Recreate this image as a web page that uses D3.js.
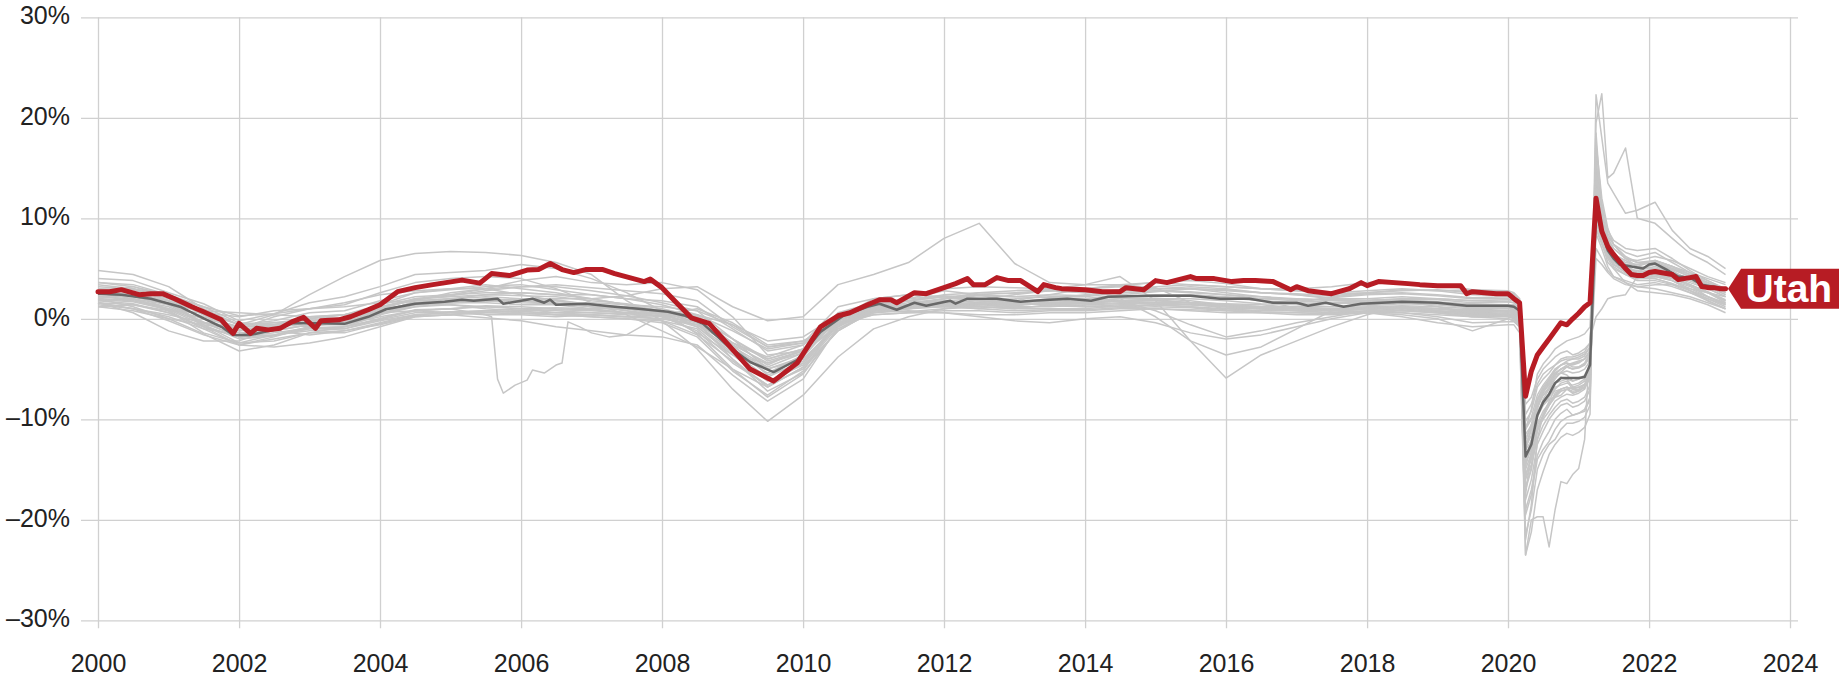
<!DOCTYPE html>
<html><head><meta charset="utf-8">
<script src="https://cdn.jsdelivr.net/npm/d3@7"></script>
<style>
html,body{margin:0;padding:0;background:#fff;}
svg{display:block;}
text{font-family:"Liberation Sans",Arial,Helvetica,sans-serif;}
</style></head><body>
<svg id="chart" width="1839" height="677"></svg>
<script>
// ---------- DATA ----------
const yTickValues = [-30, -20, -10, 0, 10, 20, 30];
const xTickYears = [2000, 2002, 2004, 2006, 2008, 2010, 2012, 2014, 2016, 2018, 2020, 2022, 2024];
const highlightLabel = "Utah";

// shared month grid for the grey state lines
const greyMonths = [
 "2000-01","2000-07","2001-01","2001-07","2002-01","2002-07","2003-01","2003-07","2004-01","2004-07",
 "2005-01","2005-07","2006-01","2006-07","2007-01","2007-07","2008-01","2008-07","2009-01","2009-07",
 "2010-01","2010-07","2011-01","2011-07","2012-01","2012-07","2013-01","2013-07","2014-01","2014-07",
 "2015-01","2015-07","2016-01","2016-07","2017-01","2017-07","2018-01","2018-07","2019-01","2019-07",
 "2020-01","2020-02","2020-03","2020-04","2020-05","2020-06","2020-07","2020-08","2020-09","2020-10",
 "2020-11","2020-12","2021-01","2021-02","2021-03","2021-04","2021-05","2021-06","2021-07","2021-09",
 "2021-11","2022-02","2022-05","2022-08","2022-11","2023-02"
];

const greySeries = [
 [4.0,3.8,2.6,1.5,-0.2,0.5,1.6,2.2,3.2,4.4, 4.6,4.8,5.4,5.0,4.0,2.6,0.8,-1.5,-5.0,-7.8, -5.5,-1.0,0.8,1.4,2.0,2.3,2.2,2.1,2.0,2.4, 2.7,3.0,2.9,2.6,2.5,2.3,2.6,2.9,2.8,2.9, 2.6,2.5,2.0,-11.0,-9.0,-5.5,-4.5,-3.8,-3.0,-2.6, -2.2,-2.0,-1.8,-1.5,-0.8,13.0,9.5,7.5,6.6,5.2, 4.6,5.6,5.0,4.2,3.6,2.9],
 [3.6,3.2,2.4,1.2,0.3,0.5,1.0,1.4,2.6,3.6, 4.0,4.2,4.0,3.0,1.6,0.4,-1.2,-2.8,-5.0,-6.8, -4.8,-1.2,0.8,1.2,1.5,1.9,2.4,2.8,3.0,3.3, 3.6,3.8,3.5,3.0,2.8,2.5,2.6,2.8,2.9,2.6, 2.5,2.4,1.8,-14.5,-12.5,-9.5,-8.0,-7.0,-6.0,-5.3, -4.8,-4.5,-4.3,-4.0,-3.2,14.0,10.2,8.0,7.0,6.0, 5.8,6.2,5.8,5.0,4.2,3.6],
 [3.2,3.0,2.4,0.8,-0.6,-0.4,-0.2,0.0,1.0,1.9, 2.3,2.8,3.2,3.4,3.1,2.8,2.5,1.8,-0.8,-2.8, -2.4,1.2,2.0,2.4,3.0,3.2,3.1,3.0,3.4,3.4, 3.1,1.6,1.0,0.8,1.6,2.2,2.5,2.6,2.4,2.1, 2.2,2.1,1.5,-9.5,-8.5,-6.5,-5.5,-5.0,-4.6,-4.2, -4.0,-4.0,-3.8,-3.5,-2.8,9.5,8.0,6.8,6.0,5.4, 5.4,5.8,5.2,4.6,4.0,3.4],
 [2.8,3.2,2.2,0.4,-1.2,-0.9,-0.3,-0.2,0.5,1.4, 1.8,2.0,1.8,1.4,1.0,0.6,-0.2,-1.6,-4.2,-6.6, -5.0,-1.2,0.8,1.4,2.0,2.6,2.5,2.8,2.6,2.8, 3.0,3.0,2.6,2.2,1.9,1.6,1.8,2.0,1.6,1.5, 1.4,1.3,0.6,-15.5,-14.0,-11.0,-10.0,-9.2,-8.2,-7.8, -7.5,-7.6,-7.4,-7.0,-5.6,14.0,10.6,8.2,7.4,6.6, 6.2,6.6,5.6,4.6,3.4,2.6],
 [2.0,1.2,0.0,-1.5,-3.2,-2.6,-1.4,-1.4,-0.5,0.3, 0.4,0.1,-0.2,-0.8,-1.2,-1.6,-1.8,-2.6,-5.6,-8.2, -6.0,-0.8,1.5,2.0,2.3,2.0,1.6,1.8,1.7,1.8, 1.9,1.6,1.4,1.2,1.0,0.9,1.0,1.2,0.8,0.6, 0.7,0.6,-0.2,-22.0,-18.5,-12.0,-9.5,-8.2,-7.0,-6.4, -6.2,-7.0,-6.8,-6.5,-5.2,18.5,10.5,7.0,5.8,4.6, 4.0,4.4,4.0,3.3,2.2,1.6],
 [2.2,2.4,1.4,-0.4,-1.8,-1.6,-1.0,-0.8,0.0,0.9, 1.0,1.2,1.0,1.1,1.0,1.0,0.7,0.4,-1.2,-3.0, -2.4,-0.2,0.9,1.3,1.4,1.5,1.3,1.6,1.6,1.8, 1.8,1.6,1.4,1.2,1.2,1.0,1.2,1.3,1.2,1.0, 1.1,1.0,0.2,-19.5,-17.5,-14.0,-13.0,-12.2,-11.0,-10.2, -9.8,-9.6,-9.4,-9.2,-8.0,15.5,11.0,8.8,7.8,7.0, 6.8,7.0,6.0,4.8,3.8,3.0],
 [1.8,1.5,0.6,-0.8,-1.8,-1.4,-0.9,-0.8,-0.1,0.6, 0.7,0.8,0.7,0.6,0.6,0.5,0.5,0.0,-2.0,-4.2, -3.2,-0.2,1.0,1.1,1.3,1.0,0.8,0.9,0.9,1.1, 1.2,1.1,0.8,0.8,0.8,0.6,0.8,1.0,0.7,0.4, 0.5,0.4,-0.2,-17.0,-15.0,-11.0,-9.6,-8.6,-7.4,-7.0, -6.8,-7.0,-6.8,-6.6,-5.8,14.0,9.0,7.0,5.8,4.6, 4.2,4.0,3.5,2.8,2.2,1.4],
 [2.6,2.0,0.8,-1.0,-2.6,-1.8,-0.8,-0.3,0.8,1.6, 2.0,2.4,2.6,2.4,2.0,1.4,0.6,-0.8,-3.6,-6.2, -4.6,-0.6,1.0,1.3,1.6,1.9,2.0,2.2,2.2,2.6, 2.8,2.7,2.4,2.0,1.8,1.6,1.7,1.9,1.9,1.6, 1.7,1.6,1.0,-12.5,-11.0,-8.0,-6.8,-6.0,-5.0,-4.6, -4.2,-4.0,-4.0,-3.7,-2.8,10.0,8.2,6.2,5.4,4.8, 4.4,5.0,4.6,4.0,3.4,2.8],
 [3.4,3.0,1.8,-0.6,-2.4,-2.2,-1.4,-0.8,0.4,1.8, 2.6,3.0,3.2,3.2,2.8,2.3,1.6,0.8,-2.0,-5.0, -4.0,-0.6,1.1,1.6,2.0,2.4,2.6,2.8,3.0,3.2, 3.0,3.2,3.0,2.6,2.4,2.1,2.4,2.5,2.3,2.0, 2.0,1.8,1.2,-13.0,-11.0,-8.5,-7.2,-6.6,-5.6,-5.0, -4.8,-5.0,-4.8,-4.5,-3.6,11.0,8.8,7.0,6.4,5.8, 5.2,5.8,5.2,4.4,3.6,2.9],
 [2.2,2.0,1.0,-0.4,-1.0,-0.8,-0.4,-0.2,0.6,1.2, 1.4,1.2,1.0,0.8,0.6,0.4,0.3,-0.4,-2.8,-4.8, -3.4,0.0,1.4,1.8,1.6,1.4,1.4,1.5,1.3,1.2, 1.4,1.2,1.0,1.0,1.0,0.9,1.1,1.1,0.8,0.5, 0.6,0.5,0.0,-14.0,-12.5,-9.5,-8.2,-7.4,-6.4,-5.8, -6.0,-6.8,-6.6,-6.2,-5.2,12.0,8.6,6.5,5.4,4.6, 4.0,4.2,3.8,3.0,2.2,1.5],
 [1.2,0.8,0.0,-0.6,-1.0,-1.2,-1.6,-1.2,-0.6,0.2, 0.4,0.8,1.0,0.6,0.4,0.2,0.3,0.4,-0.6,-2.8, -2.2,-0.4,0.6,0.8,0.6,0.2,-0.2,-0.4,0.0,0.2, -0.4,-1.4,-2.0,-1.6,-0.8,0.0,0.6,0.6,0.2,-0.4, -0.3,-0.3,-0.8,-12.0,-10.5,-8.0,-7.0,-6.4,-5.6,-5.4, -5.6,-6.2,-6.0,-5.8,-4.8,8.5,7.0,5.2,4.2,3.6, 2.8,2.6,2.4,2.0,1.4,0.6],
 [2.4,2.6,2.2,1.2,-0.4,-0.6,-0.8,0.0,1.0,2.0, 2.4,3.0,3.8,4.2,3.6,3.4,3.6,2.9,0.2,-3.6, -3.2,0.0,1.4,2.0,2.8,2.4,1.6,1.4,1.8,2.0, 0.2,-2.2,-3.6,-2.8,-1.0,0.8,1.6,1.8,1.2,0.6, 0.2,0.0,-0.6,-11.0,-10.0,-8.6,-7.6,-7.0,-6.4,-6.2, -6.0,-6.2,-6.0,-5.6,-4.6,9.0,7.6,5.6,5.0,4.4, 4.0,4.2,3.8,3.2,2.6,1.8],
 [2.6,2.2,1.4,0.8,0.6,0.4,0.2,0.4,1.0,1.4, 1.6,1.6,1.4,1.4,1.6,1.4,1.2,0.8,-0.6,-2.2, -1.8,0.4,1.0,1.1,1.2,1.4,1.2,1.2,1.4,1.5, 1.6,1.4,1.2,1.1,1.0,0.8,1.0,1.1,1.0,0.9, 1.0,0.9,0.6,-8.5,-7.8,-6.0,-5.0,-4.4,-3.8,-3.4, -3.2,-3.6,-3.4,-3.0,-2.4,7.0,6.0,4.8,4.2,3.8, 3.4,3.6,3.2,2.6,2.0,1.4],
 [2.8,3.0,1.8,-0.8,-2.6,-2.8,-2.4,-1.8,-0.8,0.2, 0.4,0.6,0.8,0.9,0.8,0.6,0.6,0.2,-2.0,-4.0, -3.0,0.2,1.0,1.2,1.3,1.2,1.0,1.4,1.5,1.6, 1.6,1.6,1.5,1.4,1.1,1.0,1.1,1.2,1.0,0.8, 0.8,0.8,0.0,-18.0,-16.0,-12.5,-11.2,-10.0,-9.2,-8.6, -8.4,-8.8,-8.6,-8.2,-7.0,17.0,11.5,8.5,7.4,6.2, 5.6,5.6,4.8,3.8,3.0,2.2],
 [3.0,2.6,0.8,-1.4,-2.4,-1.6,-0.8,0.0,1.4,2.6, 3.0,3.4,3.0,2.6,2.0,1.4,0.8,-0.4,-4.0,-7.2, -5.4,-1.0,0.6,1.2,1.6,1.4,1.6,2.0,2.4,2.8, 3.0,3.0,2.8,2.6,2.4,2.0,2.0,1.8,1.6,1.4, 1.4,1.2,0.6,-15.0,-13.4,-10.6,-9.6,-8.6,-7.8,-7.2, -7.0,-7.4,-7.2,-6.8,-5.8,15.0,10.0,8.0,7.0,6.0, 5.6,5.8,5.2,4.4,3.6,2.6],
 [1.6,1.0,0.2,-1.0,-1.6,-0.8,0.0,0.4,1.2,1.8, 2.0,1.8,2.0,1.8,1.4,0.8,0.2,-1.2,-4.4,-6.6, -4.4,-0.6,1.2,1.8,2.2,1.8,1.6,1.8,2.0,2.2, 2.4,2.4,2.2,2.0,2.0,1.8,1.8,2.0,2.0,1.8, 1.9,1.8,1.2,-13.8,-12.0,-8.8,-7.4,-6.4,-5.4,-5.0, -4.6,-4.4,-4.2,-4.0,-3.2,10.8,8.4,6.6,5.8,5.0, 4.6,5.0,4.6,3.8,3.2,2.4],
 [2.0,1.8,1.0,0.0,-0.8,-0.8,-0.4,-0.6,0.2,0.8, 0.6,0.4,0.4,0.2,0.4,0.2,0.0,-0.6,-2.4,-3.8, -2.6,-0.4,0.4,0.6,0.6,0.4,0.4,0.6,0.6,0.8, 1.0,0.8,0.6,0.6,0.4,0.4,0.6,0.6,0.4,0.2, 0.2,0.1,-0.6,-16.0,-14.5,-12.0,-10.6,-9.6,-8.8,-8.2, -8.0,-8.4,-8.2,-7.8,-6.6,15.5,10.0,8.0,6.6,5.4, 4.6,4.4,3.8,2.8,1.8,1.0],
 [1.6,0.6,-1.2,-2.2,-2.2,-1.0,-0.2,0.0,0.8,1.4, 1.4,1.0,0.8,0.4,0.2,0.0,-0.4,-1.8,-5.2,-7.6, -5.2,0.0,2.0,2.4,2.2,1.8,1.4,1.6,1.6,1.8, 1.6,1.4,1.2,1.0,1.0,0.8,1.0,1.2,0.8,0.4, 0.4,0.3,-0.4,-17.5,-13.0,-9.0,-7.2,-6.0,-5.2,-4.6, -4.4,-4.8,-4.8,-4.4,-3.4,16.0,9.0,6.4,5.2,4.4, 3.8,3.8,3.4,2.6,1.8,1.0],
 [4.8,4.4,3.2,1.0,-0.6,0.4,2.4,4.2,5.8,6.5, 6.7,6.6,6.3,5.6,4.4,1.8,-0.2,-3.0,-7.0,-10.2, -7.6,-3.8,-1.0,0.2,1.0,1.4,1.8,2.4,3.0,3.4, 3.6,3.4,3.2,3.0,3.0,3.2,3.6,3.6,3.4,2.9, 2.8,2.6,2.0,-23.5,-21.2,-17.0,-15.2,-13.5,-12.5,-11.8, -11.4,-11.6,-11.3,-10.8,-9.5,22.3,18.0,13.5,12.5,10.5, 10.8,11.6,8.8,7.0,6.2,5.0],
 [2.0,2.4,1.6,-0.4,-1.0,0.2,1.0,1.6,2.4,2.8, 3.0,3.0,2.4,1.8,1.2,1.0,0.4,-1.4,-3.6,-4.4, -3.2,-0.8,0.8,1.4,1.6,1.8,1.6,1.4,1.2,1.2, 1.4,1.4,1.2,1.0,0.8,0.8,0.6,0.2,-0.4,-0.8, -0.6,-0.6,-1.4,-21.5,-19.0,-15.0,-13.5,-12.5,-12.0,-11.0, -10.4,-10.4,-10.2,-9.8,-8.6,19.5,22.4,14.0,14.5,17.0, 10.0,9.5,8.0,6.5,5.6,4.4],
 [1.8,2.0,1.4,0.2,-0.8,-0.6,-0.2,0.0,0.8,1.6, 1.8,1.8,1.6,1.5,1.2,1.0,0.6,-0.4,-2.4,-4.0, -3.0,-0.4,0.8,1.0,1.4,1.6,1.4,1.6,1.6,1.8, 1.8,1.6,1.2,1.0,0.8,0.6,0.6,0.4,0.0,-1.2, 0.0,-0.2,-0.8,-23.5,-20.0,-19.7,-19.7,-22.7,-19.0,-16.2, -16.4,-15.5,-14.9,-12.0,-2.0,0.2,1.0,2.0,2.2,2.4, 4.2,4.4,4.0,3.4,2.6,1.6],
 [1.2,1.4,0.8,0.6,0.2,0.8,1.0,1.2,1.6,1.8, 2.0,2.2,2.0,2.0,2.0,2.3,3.0,3.2,1.2,-0.2, 0.2,3.4,4.4,5.6,8.0,9.5,5.5,3.6,3.4,4.2, 1.8,-2.2,-5.9,-3.6,-2.2,-0.8,0.4,1.2,1.0,0.6, 0.4,0.2,-0.6,-11.5,-10.6,-9.2,-8.4,-7.6,-7.2,-7.0, -6.8,-7.0,-7.0,-6.6,-5.6,6.0,5.4,4.6,4.0,3.4, 3.2,3.4,3.4,3.0,2.6,2.2],
 [3.0,2.9,2.0,0.4,-1.2,-0.6,0.2,0.0,1.2,2.0, 2.2,2.4,2.3,2.2,1.8,1.5,1.0,0.2,-2.4,-4.6, -3.0,0.6,1.6,1.8,2.2,2.4,2.2,2.4,2.3,2.6, 2.8,2.6,2.4,2.2,2.0,1.9,2.0,2.2,2.0,1.8, 1.7,1.6,1.1,-12.0,-10.8,-8.2,-7.0,-6.2,-5.4,-5.0, -4.8,-5.0,-4.9,-4.6,-3.8,11.8,9.0,7.2,6.2,5.4, 5.0,5.4,4.9,4.2,3.6,2.8],
 [1.9,1.7,0.9,-0.6,-2.0,-1.7,-1.0,-1.0,0.0,0.8, 1.0,1.3,1.2,1.0,0.9,0.6,0.2,-0.8,-3.4,-5.8, -4.2,-0.4,0.8,0.7,1.0,1.2,1.1,1.3,1.2,1.4, 1.6,1.6,1.3,1.1,1.0,0.8,0.9,1.1,1.0,0.7, 0.8,0.7,0.2,-15.8,-13.6,-10.4,-9.2,-8.4,-7.6,-7.2, -7.0,-7.2,-7.1,-6.8,-5.9,13.0,9.6,7.4,6.2,5.0, 4.4,4.6,4.1,3.4,2.7,1.9],
 [3.6,3.4,2.4,0.8,-0.6,-0.2,0.6,0.8,1.8,2.6, 2.9,3.2,3.4,2.9,2.4,2.0,1.4,0.4,-2.6,-5.6, -4.4,-0.2,1.2,1.8,2.4,2.6,2.8,2.9,2.6,2.9, 3.2,3.4,3.2,3.0,2.8,2.6,2.8,3.0,2.8,2.4, 2.3,2.2,1.6,-10.2,-9.2,-6.8,-6.0,-5.4,-4.6,-4.0, -3.8,-3.8,-3.6,-3.3,-2.4,10.2,8.0,6.4,5.6,5.0, 4.8,5.2,4.6,4.0,3.4,2.6],
 [1.4,1.0,-0.2,-1.6,-2.6,-2.0,-1.4,-1.2,-0.4,0.4, 0.6,0.8,0.6,0.4,0.2,0.0,-0.2,-1.0,-4.0,-6.8, -4.8,-0.8,1.0,1.3,1.4,1.2,1.0,1.0,1.0,1.3, 1.4,1.2,0.9,0.7,0.6,0.5,0.7,0.9,0.6,0.2, 0.3,0.2,-0.4,-16.8,-14.8,-11.2,-9.8,-8.6,-7.6,-7.0, -6.8,-7.4,-7.2,-6.8,-5.6,14.5,10.2,7.6,6.0,4.8, 4.0,4.0,3.5,2.8,2.0,1.2],
 [2.4,2.6,1.8,0.0,-1.4,-1.2,-0.6,-0.4,0.8,1.6, 1.6,1.7,2.0,1.9,1.4,1.2,0.8,0.0,-3.0,-5.0, -3.8,0.0,1.2,1.4,1.8,2.0,1.7,1.8,2.0,2.2, 2.2,2.4,2.1,1.8,1.6,1.5,1.6,1.8,1.7,1.4, 1.4,1.4,0.8,-14.6,-12.8,-9.8,-8.6,-7.8,-6.8,-6.6, -6.4,-6.6,-6.4,-6.0,-5.0,12.4,9.4,7.2,6.4,5.6, 5.4,5.6,5.0,4.4,3.8,2.9],
 [2.8,2.4,1.8,0.6,-0.6,-0.4,0.0,0.4,1.4,2.2, 2.4,2.6,2.6,2.4,2.4,2.0,1.8,1.2,-1.0,-3.2, -2.6,0.4,1.2,1.4,1.8,1.6,1.4,1.6,1.8,2.0, 2.0,1.8,1.4,1.2,1.2,1.2,1.4,1.6,1.4,1.2, 1.2,1.1,0.6,-10.8,-9.8,-7.6,-6.6,-5.8,-5.0,-4.6, -4.4,-4.6,-4.4,-4.0,-3.2,9.8,7.8,6.2,5.4,4.8, 4.4,4.6,4.2,3.6,3.0,2.2],
 [2.2,1.9,1.2,-0.3,-1.8,-1.2,-0.6,-0.6,0.4,1.2, 1.6,1.8,1.8,1.6,1.2,0.8,0.4,-0.6,-3.2,-5.4, -3.6,0.0,1.0,1.0,1.4,1.6,1.5,1.6,1.6,1.8, 2.0,2.0,1.8,1.5,1.4,1.2,1.3,1.5,1.4,1.1, 1.1,1.0,0.4,-12.8,-11.6,-8.8,-7.6,-6.8,-5.8,-5.4, -5.2,-5.4,-5.3,-5.0,-4.2,11.0,8.4,6.6,5.8,5.0, 4.6,4.8,4.4,3.8,3.2,2.4],
 [1.6,1.4,0.6,-0.8,-1.8,-1.6,-1.2,-1.0,-0.2,0.4, 0.6,0.6,0.5,0.4,0.4,0.2,0.0,-0.6,-2.6,-4.4, -3.4,-0.6,0.4,0.6,0.8,0.8,0.6,0.8,0.8,1.0, 1.0,0.9,0.8,0.6,0.6,0.5,0.6,0.8,0.6,0.3, 0.4,0.3,-0.4,-19.0,-17.0,-13.6,-12.2,-11.2,-10.0,-9.4, -9.0,-9.6,-9.4,-9.0,-7.8,17.5,12.0,9.0,7.4,6.0, 5.2,5.0,4.2,3.4,2.6,1.8]
];

// a state line with its own monthly detail (2005 hurricane dip)
const hurricaneSeries = [
 ["2000-01",1.6],["2000-07",1.0],["2001-01",0.4],["2001-07",-0.4],["2002-01",-0.8],["2002-07",-0.6],["2003-01",0.2],["2003-07",0.4],
 ["2004-01",0.6],["2004-07",0.8],["2005-01",1.0],["2005-07",0.4],["2005-08",0.2],["2005-09",-6.0],["2005-10",-7.4],["2005-12",-6.6],
 ["2006-02",-6.1],["2006-03",-5.1],["2006-05",-5.4],["2006-07",-4.6],["2006-08",-4.4],["2006-09",-0.3],["2006-11",-0.8],["2007-01",-1.4],
 ["2007-04",-1.8],["2007-07",-1.6],["2007-10",-0.6],["2008-01",0.4],["2008-07",1.0],["2009-01",-0.4],["2009-07",-2.6],["2010-01",-2.2],
 ["2010-07",-0.4],["2011-01",0.6],["2011-07",1.0],["2012-01",1.2],["2012-07",1.0],["2013-01",1.4],["2013-07",1.6],["2014-01",1.6],
 ["2014-07",1.8],["2015-01",0.8],["2015-07",-0.6],["2016-01",-1.8],["2016-07",-1.2],["2017-01",-0.4],["2017-07",0.2],["2018-01",0.8],
 ["2018-07",0.8],["2019-01",0.6],["2019-07",0.2],["2020-01",0.0],["2020-02",-0.2],["2020-03",-0.8],["2020-04",-13.0],["2020-05",-12.2],
 ["2020-06",-9.6],["2020-07",-8.6],["2020-08",-8.0],["2020-09",-7.8],["2020-10",-7.6],["2020-11",-7.0],["2020-12",-6.8],["2021-01",-6.8],
 ["2021-02",-6.9],["2021-03",-5.8],["2021-04",9.0],["2021-05",7.4],["2021-06",6.0],["2021-07",5.0],["2021-09",3.6],["2021-11",3.2],
 ["2022-02",3.0],["2022-05",2.6],["2022-08",2.2],["2022-11",1.6],["2023-02",1.0]
];

// national line
const usSeries = [
 ["2000-01",2.5],["2000-05",2.4],["2000-10",2.0],["2001-03",1.2],["2001-07",0.05],["2001-10",-0.8],["2001-12",-1.6],["2002-03",-1.6],
 ["2002-07",-1.1],["2002-10",-0.45],["2003-03",-0.45],["2003-07",-0.5],["2003-11",0.2],["2004-02",0.95],["2004-07",1.5],["2004-12",1.7],
 ["2005-03",1.9],["2005-05",1.8],["2005-09",2.0],["2005-10",1.5],["2006-01",1.8],["2006-03",2.0],["2006-05",1.6],["2006-06",1.9],
 ["2006-07",1.4],["2006-12",1.5],["2007-05",1.2],["2007-09",1.0],["2008-02",0.7],["2008-05",0.3],["2008-08",-0.5],["2008-12",-2.6],
 ["2009-04",-4.3],["2009-08",-5.3],["2009-12",-4.1],["2010-04",-1.3],["2010-08",0.35],["2010-12",1.2],["2011-02",1.5],["2011-05",0.9],
 ["2011-08",1.6],["2011-10",1.3],["2012-02",1.8],["2012-03",1.5],["2012-05",2.0],["2012-10",2.0],["2013-02",1.7],["2013-04",1.8],
 ["2013-10",2.0],["2014-02",1.8],["2014-05",2.2],["2014-12",2.3],["2015-07",2.3],["2015-12",2.0],["2016-05",2.0],["2016-09",1.6],
 ["2017-01",1.6],["2017-03",1.3],["2017-06",1.6],["2017-09",1.2],["2017-12",1.5],["2018-07",1.7],["2019-01",1.6],["2019-06",1.3],
 ["2020-01",1.3],["2020-02",1.2],["2020-03",0.8],["2020-04",-13.7],["2020-05",-12.5],["2020-06",-9.6],["2020-07",-8.3],["2020-08",-7.5],
 ["2020-09",-6.4],["2020-10",-5.9],["2020-11",-5.9],["2020-12",-5.9],["2021-01",-5.9],["2021-02",-5.8],["2021-03",-4.6],["2021-04",10.7],
 ["2021-05",8.6],["2021-06",6.8],["2021-07",6.0],["2021-08",5.4],["2021-10",5.2],["2021-12",5.0],["2022-01",5.4],["2022-02",5.5],
 ["2022-04",4.9],["2022-06",4.2],["2022-08",4.1],["2022-10",3.4],["2022-12",3.2],["2023-02",3.0]
];

// highlighted state
const utahSeries = [
 ["2000-01",2.7],["2000-03",2.7],["2000-05",2.9],["2000-08",2.4],["2000-10",2.5],["2000-12",2.5],["2001-02",2.0],["2001-05",1.2],
 ["2001-07",0.7],["2001-10",-0.1],["2001-12",-1.45],["2002-01",-0.45],["2002-03",-1.45],["2002-04",-0.95],["2002-06",-1.1],["2002-08",-0.95],
 ["2002-10",-0.3],["2002-12",0.15],["2003-02",-0.95],["2003-03",-0.2],["2003-06",-0.1],["2003-08",0.2],["2003-11",0.9],["2004-01",1.4],
 ["2004-04",2.7],["2004-07",3.1],["2004-10",3.4],["2005-03",3.85],["2005-06",3.55],["2005-08",4.5],["2005-11",4.3],["2006-02",4.85],
 ["2006-04",4.9],["2006-06",5.5],["2006-08",4.9],["2006-10",4.6],["2006-12",4.9],["2007-03",4.9],["2007-05",4.5],["2007-10",3.7],
 ["2007-11",3.95],["2008-01",3.1],["2008-03",1.9],["2008-06",0.1],["2008-09",-0.45],["2008-12",-2.4],["2009-04",-5.0],["2009-08",-6.2],
 ["2009-12",-4.4],["2010-04",-0.8],["2010-07",0.3],["2010-09",0.6],["2010-12",1.4],["2011-02",1.9],["2011-04",1.9],["2011-05",1.6],
 ["2011-08",2.6],["2011-10",2.5],["2012-01",3.1],["2012-03",3.5],["2012-05",4.0],["2012-06",3.4],["2012-08",3.4],["2012-10",4.1],
 ["2012-12",3.8],["2013-02",3.8],["2013-05",2.7],["2013-06",3.4],["2013-08",3.1],["2013-09",3.0],["2014-01",2.9],["2014-04",2.7],
 ["2014-07",2.7],["2014-08",3.1],["2014-11",2.9],["2015-01",3.8],["2015-03",3.6],["2015-07",4.2],["2015-08",4.0],["2015-11",4.0],
 ["2016-02",3.7],["2016-04",3.8],["2016-06",3.8],["2016-09",3.7],["2016-12",2.9],["2017-01",3.2],["2017-03",2.8],["2017-07",2.5],
 ["2017-10",3.0],["2017-12",3.6],["2018-01",3.3],["2018-03",3.7],["2018-08",3.5],["2018-10",3.4],["2019-01",3.3],["2019-05",3.3],
 ["2019-06",2.5],["2019-07",2.7],["2019-11",2.5],["2020-01",2.5],["2020-02",2.0],["2020-03",1.6],["2020-04",-7.7],["2020-05",-5.2],
 ["2020-06",-3.6],["2020-07",-2.8],["2020-08",-2.0],["2020-09",-1.2],["2020-10",-0.4],["2020-11",-0.6],["2020-12",0.0],["2021-01",0.55],
 ["2021-02",1.2],["2021-03",1.6],["2021-04",12.0],["2021-05",8.7],["2021-06",7.2],["2021-07",6.4],["2021-08",5.7],["2021-09",5.0],
 ["2021-10",4.4],["2021-11",4.3],["2021-12",4.3],["2022-01",4.6],["2022-02",4.7],["2022-03",4.6],["2022-04",4.5],["2022-05",4.4],
 ["2022-06",3.9],["2022-07",4.0],["2022-08",4.1],["2022-09",4.2],["2022-10",3.2],["2022-11",3.1],["2022-12",3.1],["2023-01",3.0],
 ["2023-02",3.0]
];

// ---------- CHART ----------
const W = 1839, H = 677;
const svg = d3.select("#chart");
const parse = d3.timeParse("%Y-%m");

const x = d3.scaleTime()
  .domain([new Date(2000, 0, 1), new Date(2024, 0, 1)])
  .range([98, 1790]);
const y = d3.scaleLinear().domain([-30, 30]).range([620.3, 17.3]);

const gridLeft = 81, gridRight = 1798, gridBottom = 628.3;
const gridColor = "#d0d0d0";

// horizontal grid + y labels
const yAxis = d3.axisLeft(y)
  .tickValues(yTickValues)
  .tickSize(-(gridRight - gridLeft))
  .tickPadding(11)
  .tickFormat(d => (d < 0 ? "\u2013" + Math.abs(d) : d) + "%");
const gy = svg.append("g").attr("transform", `translate(${gridLeft},0)`).call(yAxis);
gy.select(".domain").remove();
gy.selectAll(".tick line").attr("stroke", gridColor).attr("stroke-width", 1.3);
gy.selectAll(".tick text")
  .attr("font-size", 25).attr("fill", "#222").attr("dy", "0.25em")
  .attr("font-family", "'Liberation Sans', Arial, sans-serif");

// vertical grid + x labels
const xAxis = d3.axisBottom(x)
  .tickValues(xTickYears.map(yr => new Date(yr, 0, 1)))
  .tickSize(gridBottom - y(30))
  .tickPadding(25.5)
  .tickFormat(d3.timeFormat("%Y"));
const gx = svg.append("g").attr("transform", `translate(0,${y(30)})`).call(xAxis);
gx.select(".domain").remove();
gx.selectAll(".tick line").attr("stroke", gridColor).attr("stroke-width", 1.3);
gx.selectAll(".tick text")
  .attr("font-size", 25).attr("fill", "#222")
  .attr("font-family", "'Liberation Sans', Arial, sans-serif");

const line = d3.line()
  .x(d => x(parse(d[0])))
  .y(d => y(d[1]))
  .curve(d3.curveLinear);

const greyGroup = svg.append("g")
  .attr("fill", "none").attr("stroke", "#c6c6c6")
  .attr("stroke-width", 1.5).attr("stroke-linejoin", "round");

greySeries.forEach(vals => {
  const pts = vals.map((v, i) => [greyMonths[i], v]).filter(d => d[0] !== undefined);
  greyGroup.append("path").attr("d", line(pts));
});
greyGroup.append("path").attr("d", line(hurricaneSeries));

svg.append("path")
  .attr("d", line(usSeries))
  .attr("fill", "none").attr("stroke", "#686868")
  .attr("stroke-width", 2.5).attr("stroke-linejoin", "round");

const red = "#b71c24";
svg.append("path")
  .attr("d", line(utahSeries))
  .attr("fill", "none").attr("stroke", red)
  .attr("stroke-width", 5).attr("stroke-linejoin", "round").attr("stroke-linecap", "round");

// label flag at end of highlighted line
const last = utahSeries[utahSeries.length - 1];
const lx = x(parse(last[0])), ly = y(last[1]);
const tipX = lx + 2.5, bodyX = lx + 15.5, half = 20;
svg.append("path")
  .attr("d", `M${tipX},${ly} L${bodyX},${ly - half} L${W + 5},${ly - half} L${W + 5},${ly + half} L${bodyX},${ly + half} Z`)
  .attr("fill", red);
svg.append("text")
  .attr("x", lx + 20).attr("y", ly + 13.5)
  .attr("font-family", "'Open Sans', 'Noto Sans', sans-serif")
  .attr("font-weight", 700).attr("font-size", 39)
  .attr("fill", "#fff")
  .text(highlightLabel);
</script>
</body></html>
